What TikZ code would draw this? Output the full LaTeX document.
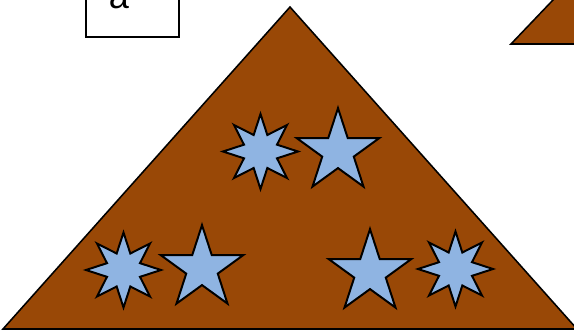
\documentclass[tikz,border=0pt]{standalone}
\usepackage{fontspec}
\setmainfont{Liberation Sans}
\usetikzlibrary{shapes.geometric}
\definecolor{rustbrown}{RGB}{153,72,6}
\definecolor{skyblue}{RGB}{143,180,226}

\begin{document}
\begin{tikzpicture}[x=0.025cm, y=-0.025cm,
  hill/.style={fill=rustbrown, draw=black, line width=1.1pt},
  starfive/.style={star, star points=5, star point ratio=2.618, minimum size=2.17cm, inner sep=0pt, fill=skyblue, draw=black, line width=1.4pt},
  stareight/.style={star, star points=8, star point ratio=2.1, minimum size=1.875cm, inner sep=0pt, fill=skyblue, draw=black, line width=1.4pt},
  labelbox/.style={draw=black, line width=1.1pt, fill=white, inner sep=0pt}]

\useasboundingbox (0,0) rectangle (574,331);

% label box, mostly above the page
\node[labelbox, anchor=south west, minimum width=2.325cm, minimum height=2.2cm] (boxa) at (85,37.5) {};
\node[font=\fontsize{25.6}{30}\selectfont, anchor=base] (texta) at (119,8) {a};

% big and small triangles
\draw[hill] (290,7) -- (3,329) -- (577,329) -- cycle;
\draw[hill] (511,44) -- (574,-22) -- (640,44) -- cycle;

% stars
\node[stareight] (starA) at (260.5,151.5) {};
\node[starfive]  (starB) at (338,151.5) {};
\node[stareight] (starC) at (123.5,270) {};
\node[starfive]  (starD) at (202,268.5) {};
\node[starfive]  (starE) at (370,272.5) {};
\node[stareight] (starF) at (455.5,269) {};

\end{tikzpicture}
\end{document}
